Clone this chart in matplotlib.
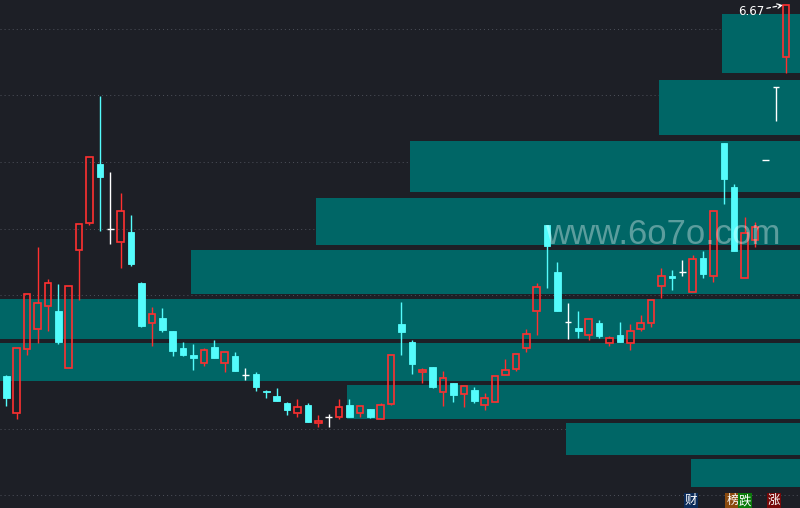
"""Candlestick chart with a right-anchored volume-at-price profile."""

import matplotlib
matplotlib.use('Agg')
import matplotlib.pyplot as plt
from matplotlib.patches import Rectangle

BG = '#1d1f26'
RED = '#ff3030'
CYAN = '#54fcfc'
TEAL = '#006666'
GRID = '#4a4d56'

# daily prices (open, high, low, close)
opens = [2.96, 2.59, 3.23, 3.43, 3.66, 3.61, 3.04, 4.22, 4.49, 5.08,
         4.43, 4.30, 4.40, 3.89, 3.49, 3.54, 3.41, 3.24, 3.17, 3.09,
         3.25, 3.09, 3.16, 2.97, 2.98, 2.81, 2.76, 2.69, 2.59, 2.67,
         2.49, 2.55, 2.55, 2.67, 2.59, 2.63, 2.53, 2.68, 3.48, 3.30,
         3.00, 3.05, 2.80, 2.89, 2.78, 2.82, 2.67, 2.70, 2.97, 3.03,
         3.24, 3.61, 4.47, 4.00, 3.50, 3.44, 3.37, 3.49, 3.29, 3.37,
         3.29, 3.43, 3.49, 3.86, 3.96, 4.00, 3.80, 4.14, 3.96, 5.29,
         4.85, 3.94, 4.32, 5.12, 5.85, 6.15]
highs = [2.97, 3.24, 3.78, 4.25, 3.93, 3.88, 3.86, 4.48, 5.15, 5.76,
         5.00, 4.79, 4.57, 3.90, 3.65, 3.64, 3.41, 3.30, 3.28, 3.24,
         3.32, 3.20, 3.20, 3.04, 3.00, 2.82, 2.84, 2.70, 2.73, 2.69,
         2.57, 2.58, 2.73, 2.73, 2.66, 2.63, 2.69, 3.17, 3.70, 3.32,
         3.04, 3.05, 3.01, 2.89, 2.86, 2.85, 2.79, 2.96, 3.13, 3.18,
         3.43, 3.89, 4.47, 4.10, 3.69, 3.61, 3.53, 3.52, 3.36, 3.50,
         3.48, 3.57, 3.72, 4.04, 4.02, 4.12, 4.17, 4.21, 4.61, 5.29,
         4.88, 4.55, 4.50, 5.12, 5.85, 6.67]
lows = [2.66, 2.53, 3.17, 3.29, 3.41, 3.28, 3.04, 3.72, 4.47, 4.41,
        4.28, 4.04, 4.06, 3.45, 3.26, 3.40, 3.16, 3.16, 3.02, 3.06,
        3.14, 3.00, 3.01, 2.92, 2.81, 2.74, 2.71, 2.57, 2.55, 2.50,
        2.45, 2.45, 2.53, 2.55, 2.55, 2.54, 2.53, 2.67, 3.17, 2.98,
        2.89, 2.84, 2.66, 2.70, 2.65, 2.69, 2.62, 2.70, 2.97, 3.01,
        3.20, 3.37, 3.84, 3.61, 3.33, 3.34, 3.32, 3.34, 3.26, 3.30,
        3.22, 3.41, 3.45, 3.74, 3.82, 3.96, 3.80, 3.94, 3.90, 4.68,
        4.21, 3.94, 4.25, 5.12, 5.51, 5.99]
closes = [2.74, 3.24, 3.78, 3.69, 3.89, 3.30, 3.86, 4.48, 5.15, 4.95,
          4.43, 4.61, 4.08, 3.46, 3.58, 3.42, 3.21, 3.17, 3.14, 3.22,
          3.14, 3.20, 3.01, 2.97, 2.85, 2.80, 2.71, 2.62, 2.65, 2.50,
          2.51, 2.55, 2.65, 2.55, 2.66, 2.55, 2.67, 3.17, 3.40, 3.08,
          3.02, 2.85, 2.94, 2.77, 2.86, 2.71, 2.74, 2.96, 3.02, 3.18,
          3.38, 3.85, 4.26, 3.61, 3.50, 3.41, 3.53, 3.36, 3.34, 3.30,
          3.41, 3.49, 3.72, 3.96, 3.94, 4.00, 4.13, 3.98, 4.61, 4.93,
          4.21, 4.39, 4.45, 5.12, 5.85, 6.67]

# volume-at-price profile: price band edges and volume per band
band_low = [5.99, 5.37, 4.80, 4.27, 3.78, 3.33, 2.91, 2.53, 2.17, 1.85]
band_high = [6.58, 5.92, 5.31, 4.74, 4.22, 3.73, 3.29, 2.87, 2.49, 2.13]
band_vol = [78, 141, 390, 484, 609, 800, 800, 453, 234, 109]

grid_levels = [6.435, 5.767, 5.10, 4.433, 3.767, 3.10, 2.433, 1.767]
last_label = '6.67'

matplotlib.rcParams.update({
    'figure.facecolor': BG, 'axes.facecolor': BG,
    'font.family': ['Noto Sans CJK SC', 'DejaVu Sans'],
})


def draw_candles(ax, w_body=0.62):
    for i, (o, h, l, c) in enumerate(zip(opens, highs, lows, closes)):
        if c > o:
            ax.add_patch(Rectangle((i - w_body / 2, o), w_body, c - o, fill=False,
                                   ec=RED, lw=1.2, zorder=3))
            if h > c:
                ax.vlines(i, c, h, color=RED, lw=1.0, zorder=3)
            if l < o:
                ax.vlines(i, l, o, color=RED, lw=1.0, zorder=3)
        elif c < o:
            ax.vlines(i, l, h, color=CYAN, lw=1.0, zorder=3)
            ax.add_patch(Rectangle((i - w_body / 2, c), w_body, o - c, fc=CYAN,
                                   ec=CYAN, lw=0.6, zorder=3))
        else:
            ax.hlines(o, i - w_body / 2, i + w_body / 2, color='white', lw=1.0, zorder=3)
            if h > l:
                ax.vlines(i, l, h, color='white', lw=1.0, zorder=3)


fig = plt.figure(figsize=(8, 5.08), dpi=100)
ax = fig.add_axes([0, 0, 1, 1])
ax.set_xlim(-0.606, 76.32)
ax.set_ylim(1.64, 6.72)
for s in ax.spines.values():
    s.set_visible(False)
ax.set_xticks([])
ax.set_yticks([])
for g in grid_levels:
    ax.axhline(g, color=GRID, lw=0.75, ls=(0, (1, 2.9)), zorder=0)

# profile on a twin x axis anchored to the right edge
ax2 = ax.twiny()
ax2.set_xlim(800, 0)
ax2.set_axis_off()
ax2.barh([(lo + hi) / 2 for lo, hi in zip(band_low, band_high)], band_vol,
         height=[hi - lo for lo, hi in zip(band_low, band_high)],
         left=0, color=TEAL, zorder=1)

ax3 = ax2.twiny()
ax3.set_xlim(ax.get_xlim())
ax3.set_ylim(ax.get_ylim())
ax3.set_axis_off()
draw_candles(ax3)

fig.text(0.829, 0.5205, 'www.6o7o.com', family='Liberation Sans', fontsize=25,
         color='white', alpha=0.36, ha='center', va='baseline', zorder=4)

last = len(closes) - 1
ax3.annotate(last_label, xy=(last - 0.3, highs[-1]), xytext=(71.6, 6.605),
             color='white', fontsize=8.5, ha='center', va='center',
             family='DejaVu Sans',
             arrowprops=dict(arrowstyle='->', color='white', lw=0.9,
                             ls=(0, (3, 2)), shrinkA=0, shrinkB=0))

tags = [('财', 0.8635, '#0c2c5a'), ('榜', 0.9155, '#8a4a0e'),
        ('跌', 0.931, '#0b7a0b'), ('涨', 0.9675, '#760808')]
for t, x, bc in tags:
    fig.text(x, 0.014, t, fontsize=9, color='white', ha='center', va='center',
             bbox=dict(boxstyle='square,pad=0.08', fc=bc, ec='none'))

fig.savefig('out.png', dpi=100, facecolor=BG)
